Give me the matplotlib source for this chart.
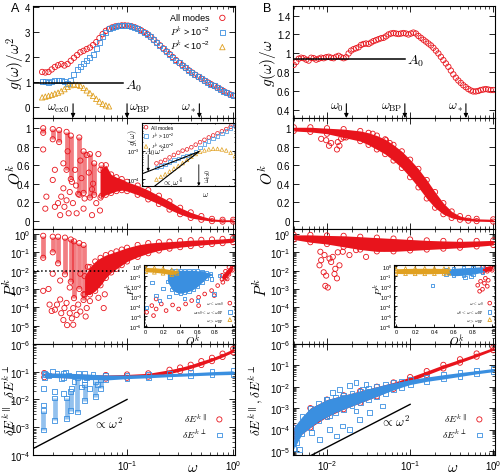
import numpy as np
import matplotlib.pyplot as plt
from matplotlib.ticker import FuncFormatter, LogLocator, MultipleLocator, NullFormatter

plt.rcParams['font.family'] = ['Liberation Sans', 'DejaVu Sans']
plt.rcParams['mathtext.fontset'] = 'cm'

RED = '#e8141c'
BLUE = '#3a8fe0'
ORANGE = '#e0a020'

# ---------------- A, top: g(w)/w^2, log10(w) grid -1.80 .. 0 step 0.03
logw_a = np.linspace(-1.80, 0.0, 61)
ratio_all_a = [1.40, 1.38, 1.40, 1.50, 1.60, 1.67, 1.72, 1.66, 1.72, 1.85,
               1.97, 2.08, 2.19, 2.25, 2.32, 2.38, 2.48, 2.60, 2.76, 2.92,
               3.05, 3.13, 3.19, 3.23, 3.25, 3.27, 3.27, 3.26, 3.24, 3.20,
               3.14, 3.08, 3.00, 2.92, 2.82, 2.70, 2.58, 2.47, 2.35, 2.23,
               2.12, 2.00, 1.88, 1.77, 1.67, 1.57, 1.47, 1.38, 1.29, 1.21,
               1.13, 1.05, 0.98, 0.91, 0.84, 0.77, 0.70, 0.63, 0.56, 0.50, 0.45]
ratio_hi_a = [1.02, 1.00, 0.98, 1.02, 1.06, 1.07, 1.05, 1.02, 0.95, 1.05,
              1.30, 1.50, 1.63, 1.75, 1.87, 1.98, 2.12, 2.35, 2.58, 2.82,
              3.00] + ratio_all_a[21:]
ratio_lo_a = [0.38, 0.41, 0.44, 0.48, 0.53, 0.57, 0.63, 0.71, 0.80, 0.87, 0.90,
              0.88, 0.84, 0.76, 0.66, 0.55, 0.44, 0.32, 0.21, 0.12, 0.06, 0.02]
A0_a = 0.95
w_ex0, w_bp_a, w_star_a = 0.031, 0.1, 0.48

# ---------------- B, top: g(w)/w, log10(w) grid -2.40 .. 0 step 0.03
logw_b = np.linspace(-2.40, 0.0, 81)
ratio_b = [0.88, 0.91, 0.945, 0.955, 0.95, 0.935, 0.925, 0.955, 0.95, 0.935,
           0.945, 0.955, 0.95, 0.96, 0.965, 0.955, 0.95, 0.965, 0.975, 0.96,
           0.95, 0.96, 1.00, 1.03, 1.045, 1.055, 1.065, 1.09, 1.10, 1.105,
           1.10, 1.115, 1.13, 1.14, 1.15, 1.16, 1.165, 1.18, 1.20, 1.21,
           1.215, 1.21, 1.205, 1.21, 1.215, 1.21, 1.20, 1.21, 1.22, 1.21,
           1.185, 1.165, 1.145, 1.125, 1.105, 1.085, 1.06, 1.03, 1.00, 0.965,
           0.93, 0.895, 0.86, 0.82, 0.78, 0.745, 0.715, 0.69, 0.665, 0.645,
           0.625, 0.61, 0.60, 0.60, 0.605, 0.615, 0.62, 0.625, 0.62, 0.615, 0.615]
A0_b = 0.945
w_0, w_bp_b, w_star_b = 0.0171, 0.0864, 0.469

# ---------------- O^k  (log10 w, low, high)
ok_band_a = [(-1.25, 0.25, 0.55), (-1.20, 0.28, 0.60), (-1.15, 0.30, 0.50),
             (-1.10, 0.32, 0.47), (-1.05, 0.33, 0.45), (-1.00, 0.32, 0.42),
             (-0.90, 0.28, 0.38), (-0.80, 0.23, 0.33), (-0.70, 0.18, 0.27),
             (-0.60, 0.12, 0.21), (-0.50, 0.07, 0.14), (-0.40, 0.03, 0.09),
             (-0.30, 0.01, 0.05), (-0.20, -0.005, 0.02), (-0.10, -0.01, 0.01),
             (0.00, -0.01, 0.01)]
ok_streaks_a = [(-1.79, 0.95, 1.0), (-1.70, 0.88, 0.99), (-1.64, 0.85, 0.98),
                (-1.57, 0.55, 0.96), (-1.53, 0.45, 0.92), (-1.45, 0.28, 0.90),
                (-1.41, 0.30, 0.75), (-1.35, 0.25, 0.72), (-1.31, 0.28, 0.62),
                (-1.24, 0.27, 0.60)]
ok_dots_a = [(-1.79, 0.77), (-1.76, 0.26), (-1.77, 0.13), (-1.70, 0.44),
             (-1.68, 0.55), (-1.68, 0.15), (-1.65, 0.19), (-1.63, 0.06),
             (-1.62, 0.26), (-1.60, 0.35), (-1.59, 0.15), (-1.57, 0.22),
             (-1.55, 0.08), (-1.54, 0.31), (-1.52, 0.42), (-1.51, 0.19),
             (-1.49, 0.55), (-1.475, 0.08), (-1.46, 0.29), (-1.44, 0.65),
             (-1.41, 0.13), (-1.40, 0.24), (-1.38, 0.71), (-1.33, 0.06),
             (-1.32, 0.40), (-1.29, 0.19), (-1.27, 0.72), (-1.255, 0.11),
             (-1.60, 0.62), (-1.56, 0.75), (-1.48, 0.38), (-1.43, 0.46),
             (-1.36, 0.52), (-1.33, 0.34)]
ok_band_b = [(-2.40, 0.97, 1.01), (-2.20, 0.96, 1.01), (-2.00, 0.94, 1.00),
             (-1.80, 0.90, 0.99), (-1.60, 0.86, 0.97), (-1.50, 0.82, 0.95),
             (-1.40, 0.77, 0.92), (-1.30, 0.72, 0.88), (-1.20, 0.65, 0.82),
             (-1.10, 0.57, 0.75), (-1.00, 0.47, 0.66), (-0.90, 0.36, 0.56),
             (-0.80, 0.24, 0.44), (-0.70, 0.14, 0.31), (-0.60, 0.07, 0.19),
             (-0.50, 0.03, 0.10), (-0.40, 0.01, 0.05), (-0.30, 0.0, 0.03),
             (-0.20, -0.005, 0.02), (0.00, -0.01, 0.015)]
ok_dots_b = [(-1.976, 0.81), (-1.95, 0.84), (-1.88, 0.77), (-1.87, 0.85),
             (-1.85, 0.81), (-1.83, 0.885), (-2.01, 0.87), (-2.07, 0.885),
             (-1.77, 0.90), (-1.45, 0.94), (-1.29, 0.87), (-1.245, 0.84)]

# ---------------- P^k  (log10 w, log10 P low, log10 P high)
pk_band_a = [(-1.40, -3.3, -2.3), (-1.35, -3.3, -1.8), (-1.30, -3.1, -1.5),
             (-1.25, -2.8, -1.3), (-1.20, -2.4, -1.15), (-1.15, -2.1, -1.05),
             (-1.10, -1.9, -0.95), (-1.05, -1.7, -0.85), (-1.00, -1.5, -0.75),
             (-0.90, -1.25, -0.6), (-0.80, -1.05, -0.5), (-0.70, -0.9, -0.45),
             (-0.60, -0.8, -0.42), (-0.50, -0.72, -0.38), (-0.40, -0.66, -0.34),
             (-0.30, -0.6, -0.32), (-0.20, -0.55, -0.3), (-0.10, -0.5, -0.27),
             (0.00, -0.45, -0.22)]
pk_streaks_a = [(-1.79, -1.3, -0.1), (-1.70, -1.0, -0.15), (-1.65, -1.6, -0.15),
                (-1.585, -2.2, -0.2), (-1.53, -2.6, -0.3), (-1.50, -3.5, -0.4),
                (-1.45, -3.0, -0.5), (-1.41, -3.6, -0.6)]
pk_dots_a = [(-1.79, -3.1), (-1.68, -4.13), (-1.71, -4.2), (-1.66, -3.85),
             (-1.63, -3.57), (-1.62, -4.32), (-1.60, -4.69), (-1.59, -4.04),
             (-1.57, -3.76), (-1.565, -4.97), (-1.54, -4.32), (-1.52, -4.6),
             (-1.507, -4.04), (-1.475, -4.41), (-1.46, -3.85), (-1.44, -4.23),
             (-1.507, -4.95), (-1.41, -3.29), (-1.38, -4.04), (-1.39, -4.5),
             (-1.35, -3.66), (-1.32, -3.01), (-1.27, -3.48), (-1.22, -4.04),
             (-1.21, -3.29), (-1.74, -3.0), (-1.73, -3.85), (-1.63, -2.54),
             (-1.70, -2.17), (-1.54, -2.92), (-1.44, -2.17), (-1.37, -1.79)]
pk_band_b = [(-2.40, -0.3, -0.05), (-2.20, -0.45, -0.05), (-2.00, -0.55, -0.08),
             (-1.80, -0.7, -0.1), (-1.60, -0.85, -0.15), (-1.40, -0.95, -0.2),
             (-1.20, -0.95, -0.25), (-1.00, -0.9, -0.3), (-0.80, -0.85, -0.35),
             (-0.60, -0.8, -0.38), (-0.40, -0.75, -0.4), (-0.20, -0.68, -0.38),
             (0.00, -0.6, -0.35)]
pk_dots_b = [(-2.08, -0.97), (-2.07, -1.43), (-2.03, -1.15), (-2.01, -2.27),
             (-2.02, -2.83), (-1.99, -2.92), (-1.97, -1.34), (-1.95, -1.53),
             (-1.93, -1.25), (-1.91, -2.18), (-1.90, -1.9), (-1.88, -2.42),
             (-1.87, -1.0), (-1.81, -0.97), (-1.73, -1.15), (-1.65, -0.88),
             (-1.53, -1.25), (-1.31, -0.78), (-2.09, -1.71), (-1.85, -1.71),
             (-2.04, -2.09)]

# ---------------- inset P^k vs O^k  (O, log10 P low, log10 P high)
ins_orange_a = [(0.0, -0.55, -0.12), (0.1, -0.6, -0.15), (0.2, -0.7, -0.22),
                (0.3, -0.85, -0.35), (0.36, -0.7, -0.45)]
ins_blue_a = [(0.25, -1.5, -0.5), (0.30, -2.3, -0.45), (0.35, -2.6, -0.45),
              (0.40, -2.7, -0.4), (0.45, -2.6, -0.4), (0.50, -2.5, -0.4),
              (0.55, -2.3, -0.4), (0.60, -2.0, -0.45), (0.65, -1.6, -0.5),
              (0.70, -1.2, -0.6), (0.75, -0.9, -0.7)]
ins_blue_dots_a = [(0.07, -1.6), (0.12, -2.9), (0.01, -4.1), (0.16, -3.4),
                   (0.60, -3.4), (0.76, -1.27), (0.65, -0.6), (0.79, -2.77),
                   (0.20, -2.2), (0.27, -3.0), (0.45, -3.2), (0.85, -0.9)]
ins_red_a = [(0.88, -1.3, -0.9), (0.92, -1.2, -0.5), (0.96, -0.8, -0.1),
             (1.0, -0.4, 0.1)]
ins_red_dots_a = [(0.01, -4.6), (0.07, -3.93), (0.12, -4.27), (0.18, -3.77),
                  (0.235, -4.43), (0.31, -3.87), (0.38, -4.27), (0.46, -3.77),
                  (0.53, -3.43), (0.61, -3.1), (0.68, -2.77), (0.76, -2.43),
                  (0.83, -1.93), (0.89, -1.6), (0.94, -1.27), (0.79, -2.93),
                  (0.61, -3.93), (0.09, -4.93), (0.12, -3.27)]
ins_orange_b = [(0.0, -0.72, -0.25), (0.1, -0.74, -0.22), (0.2, -0.75, -0.2),
                (0.3, -0.75, -0.2), (0.4, -0.74, -0.2), (0.5, -0.72, -0.22),
                (0.55, -0.7, -0.25)]
ins_blue_b = [(0.52, -0.8, -0.3), (0.6, -0.95, -0.2), (0.7, -0.9, -0.15),
              (0.8, -0.8, -0.1), (0.9, -0.6, -0.05)]
ins_blue_dots_b = [(0.38, -1.9), (0.72, -1.15), (0.78, -1.0)]
ins_red_b = [(0.9, -0.6, -0.1), (0.95, -0.5, 0.0), (1.0, -0.4, 0.05)]
ins_red_dots_b = [(0.85, -1.9), (0.88, -1.5), (0.9, -2.3), (0.92, -1.7),
                  (0.95, -2.0), (0.87, -2.5), (0.93, -1.2), (0.96, -1.4)]

# ---------------- dE  (log10 w, log10 dE low, log10 dE high)
de_par_a = [(-1.78, -1.20, -1.05), (-1.20, -1.25, -1.12), (-1.00, -1.22, -1.10),
            (-0.80, -1.18, -1.06), (-0.60, -1.07, -0.93), (-0.50, -0.98, -0.85),
            (-0.40, -0.88, -0.75), (-0.30, -0.76, -0.62), (-0.20, -0.62, -0.50),
            (-0.10, -0.47, -0.35), (0.00, -0.30, -0.18)]
de_perp_a = [(-1.78, -1.20, -1.05), (-1.60, -1.22, -1.05), (-1.40, -1.28, -1.08),
             (-1.20, -1.30, -1.12), (-1.00, -1.25, -1.12), (-0.80, -1.22, -1.10),
             (-0.60, -1.18, -1.07), (-0.40, -1.15, -1.04), (-0.20, -1.12, -1.0),
             (0.00, -1.10, -0.97)]
de_streaks_a = [(-1.79, -3.1, -2.4), (-1.68, -2.75, -1.95), (-1.57, -2.7, -1.95),
                (-1.53, -2.4, -1.7), (-1.47, -2.45, -1.2), (-1.40, -2.05, -1.45),
                (-1.30, -1.9, -1.35), (-1.25, -1.6, -1.3)]
de_dots_a = [(-1.79, -1.6), (-1.77, -1.1), (-1.74, -1.15), (-1.70, -1.0),
             (-1.66, -1.08), (-1.62, -1.25), (-1.58, -1.02), (-1.55, -1.12),
             (-1.50, -1.35), (-1.46, -1.05), (-1.43, -1.55), (-1.38, -1.22),
             (-1.35, -1.6), (-1.32, -1.1), (-1.28, -1.45), (-1.79, -2.2),
             (-1.68, -1.7), (-1.60, -1.8), (-1.52, -1.6)]
de_par_b = [(-2.40, -4.5, -3.9), (-2.20, -3.9, -3.0), (-2.00, -3.4, -2.6),
            (-1.80, -3.05, -2.4), (-1.60, -2.75, -2.2), (-1.40, -2.45, -2.0),
            (-1.20, -2.1, -1.8), (-1.00, -1.75, -1.55), (-0.80, -1.45, -1.27),
            (-0.60, -1.15, -0.98), (-0.40, -0.88, -0.72), (-0.20, -0.6, -0.45),
            (0.00, -0.3, -0.17)]
de_perp_b = [(-2.40, -4.9, -3.9), (-2.30, -4.2, -3.4), (-2.20, -3.9, -3.0),
             (-2.10, -3.6, -2.8), (-2.00, -3.4, -2.6), (-1.90, -3.2, -2.5),
             (-1.80, -3.05, -2.4), (-1.70, -2.9, -2.3), (-1.60, -2.75, -2.2),
             (-1.50, -2.6, -2.1), (-1.40, -2.45, -2.0), (-1.30, -2.3, -1.9),
             (-1.20, -2.15, -1.82), (-1.10, -2.02, -1.75), (-1.00, -1.9, -1.67),
             (-0.80, -1.75, -1.55), (-0.60, -1.64, -1.44), (-0.40, -1.52, -1.34),
             (-0.20, -1.40, -1.25), (0.00, -1.30, -1.15)]
de_dots_b = [(-1.93, -2.28), (-1.85, -2.12), (-1.81, -2.51), (-1.73, -1.96),
             (-1.65, -1.81), (-1.57, -2.12), (-1.53, -1.89), (-1.49, -2.2),
             (-2.01, -2.59), (-2.07, -2.9), (-2.15, -3.2), (-2.21, -3.52),
             (-2.27, -3.68), (-2.37, -4.61), (-2.33, -4.92), (-2.19, -4.14),
             (-2.09, -4.46), (-1.97, -3.99), (-1.89, -4.3), (-1.81, -3.83),
             (-1.73, -3.99), (-1.61, -3.52), (-1.49, -3.21), (-1.33, -2.9),
             (-1.97, -3.37), (-1.65, -3.13)]


def pow10(v, pos):
    return r'$\mathregular{10^{%d}}$' % int(round(np.log10(v)))


def plain(v, pos):
    return '%g' % round(v, 6)


def style(ax, logx=True, logy=False, size=7):
    if logx:
        ax.set_xscale('log')
        ax.xaxis.set_major_locator(LogLocator(base=10, numticks=20))
        ax.xaxis.set_minor_locator(LogLocator(base=10, subs=np.arange(2, 10), numticks=20))
        ax.xaxis.set_major_formatter(FuncFormatter(pow10))
        ax.xaxis.set_minor_formatter(NullFormatter())
    if logy:
        ax.set_yscale('log')
        ax.yaxis.set_major_locator(LogLocator(base=10, numticks=20))
        ax.yaxis.set_minor_locator(LogLocator(base=10, subs=np.arange(2, 10), numticks=20))
        ax.yaxis.set_major_formatter(FuncFormatter(pow10))
        ax.yaxis.set_minor_formatter(NullFormatter())
    else:
        ax.yaxis.set_major_formatter(FuncFormatter(plain))
    ax.tick_params(which='both', direction='in', top=True, right=True,
                   labelsize=size, pad=2)
    ax.tick_params(which='major', length=4, width=0.6)
    ax.tick_params(which='minor', length=2, width=0.5)
    for s in ax.spines.values():
        s.set_linewidth(0.8)


def ylab(ax, text, x, size=11):
    ax.text(x, 0.5, text, transform=ax.transAxes, rotation=90,
            ha='center', va='center', fontsize=size)


def xlab(ax, text, size=11):
    ax.text(0.79, -0.11, text, transform=ax.transAxes, ha='center',
            va='center', fontsize=size)


def unpack(rows, logx=True, logy=False):
    a = np.asarray(rows, float)
    x = 10.0 ** a[:, 0] if logx else a[:, 0]
    rest = [10.0 ** a[:, i] if logy else a[:, i] for i in range(1, a.shape[1])]
    return [x] + rest


def band(ax, rows, color, marker='o', logx=True, logy=False, s=14, label=None):
    x, lo, hi = unpack(rows, logx, logy)
    ax.fill_between(x, lo, hi, color=color, lw=0, zorder=2)
    ax.scatter(x, lo, s=s, marker=marker, facecolors='none', edgecolors=color,
               linewidths=0.6, zorder=2, label=label)
    ax.scatter(x, hi, s=s, marker=marker, facecolors='none', edgecolors=color,
               linewidths=0.6, zorder=2)


def streaks(ax, rows, color, marker='o', logx=True, logy=False, lw=3.4, s=14):
    x, lo, hi = unpack(rows, logx, logy)
    ax.vlines(x, lo, hi, color=color, lw=lw, alpha=0.55, zorder=2)
    for e in (lo, hi):
        ax.scatter(x, e, s=s, marker=marker, facecolors='none', edgecolors=color,
                   linewidths=0.6, zorder=2)


def dots(ax, rows, color, marker='o', logx=True, logy=False, s=14, label=None):
    x, y = unpack(rows, logx, logy)
    ax.scatter(x, y, s=s, marker=marker, facecolors='none', edgecolors=color,
               linewidths=0.6, zorder=3, label=label)


def arrow(ax, x, y0, y1, lw=0.8, scale=6):
    ax.annotate('', xy=(x, y1), xytext=(x, y0),
                arrowprops=dict(arrowstyle='-|>', color='k', lw=lw,
                                mutation_scale=scale, shrinkA=0, shrinkB=0))


fig = plt.figure(figsize=(5.0, 4.77), dpi=100)
rows = [(0.7505, 0.2348), (0.5178, 0.2327), (0.2767, 0.2411), (0.044, 0.2327)]
width = 0.404
axA = []
axB = []
for i, (b, h) in enumerate(rows):
    axA.append(fig.add_axes([0.066, b, width, h], sharex=axA[0] if axA else None))
    axB.append(fig.add_axes([0.586, b, width, h], sharex=axB[0] if axB else None))

for i in range(4):
    style(axA[i], logy=i >= 2)
    style(axB[i], logy=i >= 2)
    if i < 3:
        axA[i].tick_params(labelbottom=False)
        axB[i].tick_params(labelbottom=False)
axA[0].set_xlim(0.013, 1.04)
axB[0].set_xlim(0.0039, 1.05)

fig.text(0.022, 0.982, 'A', fontsize=9, va='center')
fig.text(0.526, 0.982, 'B', fontsize=9, va='center')

# ---------- row 1
ax = axA[0]
wa = 10.0 ** logw_a
ax.scatter(wa, ratio_all_a, s=15, marker='o', facecolors='none', edgecolors=RED,
           linewidths=0.6, label='All modes', zorder=3)
ax.scatter(wa, ratio_hi_a, s=13, marker='s', facecolors='none', edgecolors=BLUE,
           linewidths=0.6, label=r'$P^k$ > 10$^{\mathregular{-2}}$', zorder=3)
ax.scatter(wa[:len(ratio_lo_a)], ratio_lo_a, s=15, marker='^', facecolors='none',
           edgecolors=ORANGE, linewidths=0.6, label=r'$P^k$ < 10$^{\mathregular{-2}}$', zorder=3)
ax.plot([0.013, 0.091], [A0_a, A0_a], color='k', lw=1.1, zorder=4)
ax.text(0.095, A0_a - 0.07, r'$A_0$', fontsize=10, va='center')
ax.set_ylim(-0.45, 4.05)
ax.yaxis.set_major_locator(MultipleLocator(1))
for w, ha, dx, lab in [(w_ex0, 'right', 0.92, r'$\omega_{\rm ex0}$'),
                       (w_bp_a, 'left', 1.04, r'$\omega_{\rm BP}$'),
                       (w_star_a, 'right', 0.94, r'$\omega_*$')]:
    arrow(ax, w, 0.12, -0.45)
    ax.text(w * dx, -0.05, lab, ha=ha, va='center', fontsize=9)
ylab(ax, r'$g(\omega)/\omega^2$', -0.084)
ax.legend(loc='upper right', bbox_to_anchor=(1.0, 1.0), frameon=False,
          markerfirst=False, fontsize=6.5, handletextpad=0.8, labelspacing=0.25,
          handlelength=1.2, borderaxespad=0.4)

ax = axB[0]
ax.scatter(10.0 ** logw_b, ratio_b, s=15, marker='o', facecolors='none',
           edgecolors=RED, linewidths=0.6, zorder=3)
ax.plot([0.0039, w_bp_b], [A0_b, A0_b], color='k', lw=1.1, zorder=4)
ax.text(0.092, A0_b - 0.02, r'$A_0$', fontsize=10, va='center')
ax.set_ylim(0.32, 1.5)
ax.yaxis.set_major_locator(MultipleLocator(0.2))
for w, lab in [(w_0, r'$\omega_0$'), (w_bp_b, r'$\omega_{\rm BP}$'), (w_star_b, r'$\omega_*$')]:
    arrow(ax, w, 0.47, 0.32)
    ax.text(w * 0.93, 0.44, lab, ha='right', va='center', fontsize=9)
ylab(ax, r'$g(\omega)/\omega$', -0.125)

# ---------- row 2: O^k
ax = axA[1]
band(ax, ok_band_a, RED)
streaks(ax, ok_streaks_a, RED)
dots(ax, ok_dots_a, RED)
ax.set_ylim(-0.09, 1.11)
ax.yaxis.set_major_locator(MultipleLocator(0.2))
ylab(ax, r'$O^k$', -0.09)

ax = axB[1]
band(ax, ok_band_b, RED)
dots(ax, ok_dots_b, RED)
ax.set_ylim(-0.09, 1.11)
ax.yaxis.set_major_locator(MultipleLocator(0.2))
ylab(ax, r'$O^k$', -0.13)

# inset g(w) in A
ins = fig.add_axes([0.284, 0.608, 0.186, 0.132])
ins.set_facecolor('white')
style(ins, logy=True, size=4)
ins.tick_params(labelbottom=False, length=2)
ins.tick_params(which='minor', length=1)
ins.scatter(wa, np.array(ratio_all_a) * wa ** 2, s=7, marker='o', facecolors='none',
            edgecolors=RED, linewidths=0.5, label='All modes')
ins.scatter(wa, np.array(ratio_hi_a) * wa ** 2, s=6, marker='s', facecolors='none',
            edgecolors=BLUE, linewidths=0.5, label=r'$P^k$ > 10$^{\mathregular{-2}}$')
wl = wa[:len(ratio_lo_a)]
ins.scatter(wl, np.array(ratio_lo_a) * wl ** 2, s=7, marker='^', facecolors='none',
            edgecolors=ORANGE, linewidths=0.5, label=r'$P^k$ < 10$^{\mathregular{-2}}$')
g_ex0 = A0_a * w_ex0 ** 2
ins.plot([0.0126, w_ex0], [A0_a * 0.0126 ** 2, g_ex0], color='k', lw=0.8)
ins.plot([0.0155, w_ex0], [g_ex0 * (0.0155 / w_ex0) ** 4, g_ex0], color='k', lw=0.8)
ins.set_xlim(0.0126, 0.055)
ins.set_ylim(10 ** -4.25, 10 ** -2.03)
ins.annotate('', xy=(0.0139, A0_a * 0.0139 ** 2), xytext=(0.0139, 10 ** -3.15),
             arrowprops=dict(arrowstyle='-|>', color='k', lw=0.6, mutation_scale=4,
                             shrinkA=0, shrinkB=0))
ins.text(0.0131, 10 ** -3.02, r'$A_0\,\omega^2$', fontsize=6, va='center')
ins.text(0.0174, 10 ** -4.07, r'$\propto\,\omega^4$', fontsize=6, va='center')
ins.annotate('', xy=(w_ex0, 10 ** -4.25), xytext=(w_ex0, 10 ** -3.5),
             arrowprops=dict(arrowstyle='-|>', color='k', lw=0.6, mutation_scale=4,
                             shrinkA=0, shrinkB=0))
ins.text(0.0335, 10 ** -3.85, r'$\omega_{\rm ex0}$', fontsize=5.5, rotation=90, va='center')
ins.text(-0.1, 0.78, r'$g(\omega)$', transform=ins.transAxes, rotation=90,
         ha='center', va='center', fontsize=6)
ins.text(0.68, -0.13, r'$\omega$', transform=ins.transAxes, ha='center',
         va='center', fontsize=6)
ins.legend(loc='upper left', frameon=False, fontsize=3.6, handletextpad=0.5,
           labelspacing=0.15, handlelength=1.0, borderaxespad=0.2, borderpad=0.1)

# ---------- row 3: P^k
ax = axA[2]
band(ax, pk_band_a, RED, logy=True)
streaks(ax, pk_streaks_a, RED, logy=True)
dots(ax, pk_dots_a, RED, logy=True)
ax.plot([0.013, 0.1], [1e-2, 1e-2], color='k', ls=':', lw=1.1, zorder=4)
ax.set_ylim(1e-6, 10 ** 0.27)
ylab(ax, r'$P^k$', -0.108)

ax = axB[2]
band(ax, pk_band_b, RED, logy=True)
dots(ax, pk_dots_b, RED, logy=True)
ax.set_ylim(1e-6, 10 ** 0.27)
ylab(ax, r'$P^k$', -0.158)


def pk_inset(rect, orange, blue, blue_dots, red, red_dots, labels, xlab_x):
    a = fig.add_axes(rect)
    a.set_facecolor('white')
    style(a, logx=False, logy=True, size=4)
    a.tick_params(length=2, pad=1.5)
    a.tick_params(which='minor', length=1)
    a.xaxis.set_major_formatter(FuncFormatter(plain))
    a.xaxis.set_major_locator(MultipleLocator(0.2))
    band(a, red, RED, logx=False, logy=True, s=7, label=labels[0])
    dots(a, red_dots, RED, logx=False, logy=True, s=7)
    band(a, blue, BLUE, marker='s', logx=False, logy=True, s=6, label=labels[1])
    dots(a, blue_dots, BLUE, marker='s', logx=False, logy=True, s=6)
    band(a, orange, ORANGE, marker='^', logx=False, logy=True, s=7, label=labels[2])
    a.set_xlim(-0.02, 1.03)
    a.set_ylim(10 ** -6.07, 10 ** 0.13)
    a.text(-0.15, 0.62, r'$P^k$', transform=a.transAxes, rotation=90,
           ha='center', va='center', fontsize=7)
    a.text(xlab_x, -0.2, r'$O^k$', transform=a.transAxes, ha='center',
           va='center', fontsize=8)
    a.legend(loc='lower right', frameon=False, markerfirst=False, fontsize=3.4,
             handletextpad=0.8, labelspacing=0.2, handlelength=1.0,
             borderaxespad=0.3, borderpad=0.1, bbox_to_anchor=(0.99, 0.02))
    return a


pk_inset([0.288, 0.3124, 0.182, 0.130], ins_orange_a, ins_blue_a, ins_blue_dots_a,
         ins_red_a, ins_red_dots_a,
         [r'$\omega < \omega_{\rm ex0}$', r'$\omega_{\rm ex0} < \omega < \omega_{\rm BP}$',
          r'$\omega > \omega_{\rm BP}$'], 0.54)
pk_inset([0.788, 0.3124, 0.202, 0.130], ins_orange_b, ins_blue_b, ins_blue_dots_b,
         ins_red_b, ins_red_dots_b,
         [r'$\omega < \omega_0$', r'$\omega_0 < \omega < \omega_{\rm BP}$',
          r'$\omega > \omega_{\rm BP}$'], 0.62)

# ---------- row 4: dE
ax = axA[3]
band(ax, de_par_a, RED, logy=True, label=r'$\delta E^{k\,\parallel}$')
band(ax, de_perp_a, BLUE, marker='s', logy=True, s=12, label=r'$\delta E^{k\,\perp}$')
streaks(ax, de_streaks_a, BLUE, marker='s', logy=True, s=12)
dots(ax, de_dots_a, BLUE, marker='s', logy=True, s=12)
wl2 = np.array([0.013, 0.1])
ax.plot(wl2, 1e-2 * (wl2 / 0.1) ** 2, color='k', lw=1.0, zorder=4)
ax.text(0.048, 1.4e-3, r'$\propto\,\omega^2$', fontsize=9, va='center')
ax.set_ylim(1e-4, 0.99)
ylab(ax, r'$\delta E^{k\,\parallel}, \delta E^{k\,\perp}$', -0.115, size=9.5)
xlab(ax, r'$\omega$')
ax.legend(loc='lower right', bbox_to_anchor=(0.99, 0.06), frameon=False,
          markerfirst=False, fontsize=7, handletextpad=0.8, labelspacing=0.3,
          handlelength=1.0)

ax = axB[3]
band(ax, de_par_b, RED, logy=True, label=r'$\delta E^{k\,\parallel}$')
band(ax, de_perp_b, BLUE, marker='s', logy=True, s=12, label=r'$\delta E^{k\,\perp}$')
dots(ax, de_dots_b, BLUE, marker='s', logy=True, s=12)
wl3 = np.array([0.0055, 0.1])
ax.plot(wl3, 1.5e-3 * (wl3 / 0.1) ** 2, color='k', lw=1.0, zorder=4)
ax.text(0.043, 2.5e-4, r'$\propto\,\omega^2$', fontsize=9, va='center')
ax.set_ylim(6.5e-6, 0.98)
ylab(ax, r'$\delta E^{k\,\parallel}, \delta E^{k\,\perp}$', -0.185, size=9.5)
xlab(ax, r'$\omega$')
ax.legend(loc='lower right', bbox_to_anchor=(0.99, 0.06), frameon=False,
          markerfirst=False, fontsize=7, handletextpad=0.8, labelspacing=0.3,
          handlelength=1.0)

fig.savefig('out.png', dpi=100)
